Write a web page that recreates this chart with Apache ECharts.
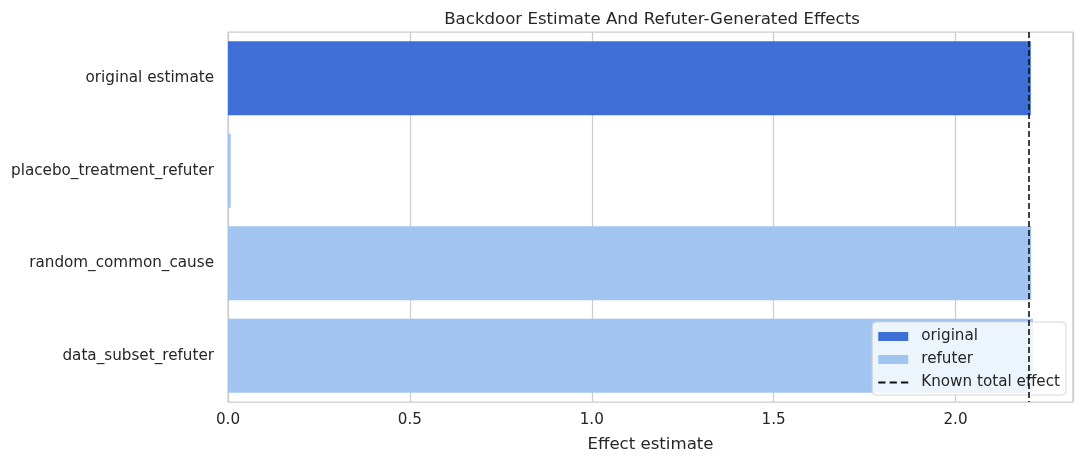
<!DOCTYPE html>
<html>
<head>
<meta charset="utf-8">
<script src="https://cdn.jsdelivr.net/npm/echarts@6/dist/echarts.min.js"></script>
<style>
  html, body { margin: 0; padding: 0; background: #fff; }
  #chart1 { width: 1084px; height: 464px; }
</style>
</head>
<body>
<div id="chart1"></div>
<script>
// data
var categories = ['original estimate', 'placebo_treatment_refuter', 'random_common_cause', 'data_subset_refuter'];
var originalValues = [2.207, null, null, null];
var refuterValues = [null, 0.0075, 2.208, 2.213];
var knownEffect = 2.2;
var xTicks = [0, 0.5, 1.0, 1.5, 2.0];

var font = 'DejaVu Sans';
var myChart = echarts.init(document.getElementById('chart1'));

// dashed line icon for the legend
var dashIcon = 'path://M0,4h7v2h-7z M11,4h7v2h-7z M22,4h7v2h-7z';

var option = {
    animation: false,
    backgroundColor: '#fff',
    textStyle: { fontFamily: font },
    title: {
        text: 'Backdoor Estimate And Refuter-Generated Effects',
        left: 647, top: 6,
        textAlign: 'center',
        textStyle: { fontFamily: font, fontSize: 16.6, fontWeight: 'normal', color: '#262626' }
    },
    grid: {
        left: 228, right: 11, top: 32, bottom: 62,
        show: true, borderColor: '#cccccc', borderWidth: 1.25,
        containLabel: false
    },
    legend: {
        orient: 'vertical',
        right: 18, bottom: 69,
        padding: [7, 6, 5, 6],
        itemGap: 8,
        itemWidth: 30, itemHeight: 9,
        backgroundColor: 'rgba(255,255,255,0.8)',
        borderColor: '#d6d6d6', borderWidth: 1, borderRadius: 4,
        textStyle: { fontFamily: font, fontSize: 15.2, lineHeight: 15, color: '#262626', padding: [0, 0, 0, 8] },
        data: [
            { name: 'original', icon: 'rect' },
            { name: 'refuter', icon: 'rect' },
            { name: 'Known total effect', icon: dashIcon, itemStyle: { color: '#111' } }
        ]
    },
    xAxis: {
        type: 'value',
        min: 0, max: 2.323,
        interval: 0.5,
        name: 'Effect estimate',
        nameLocation: 'middle',
        nameGap: 34,
        nameTextStyle: { fontFamily: font, fontSize: 16.6, color: '#262626' },
        axisLine: { show: false },
        axisTick: { show: false },
        splitLine: { show: true, lineStyle: { color: '#cccccc', width: 1.25 } },
        axisLabel: {
            fontFamily: font, fontSize: 15.2, color: '#262626', margin: 11,
            showMaxLabel: false,
            formatter: function (v) {
                return xTicks.indexOf(v) >= 0 ? v.toFixed(1) : '';
            }
        }
    },
    yAxis: {
        type: 'category',
        inverse: true,
        data: categories,
        axisLine: { show: false },
        axisTick: { show: false },
        splitLine: { show: false },
        axisLabel: { fontFamily: font, fontSize: 15.2, color: '#262626', margin: 14 }
    },
    series: [
        {
            name: 'original',
            type: 'bar',
            data: originalValues,
            barGap: '-100%',
            barCategoryGap: '20%',
            itemStyle: { color: '#3f6fd6' }
        },
        {
            name: 'refuter',
            type: 'bar',
            data: refuterValues,
            barGap: '-100%',
            barCategoryGap: '20%',
            itemStyle: { color: '#a1c5f0' }
        },
        {
            name: 'Known total effect',
            type: 'line',
            data: [],
            itemStyle: { color: '#111' },
            markLine: {
                silent: true,
                symbol: 'none',
                label: { show: false },
                lineStyle: { color: '#111', type: [6, 3], width: 1.6 },
                data: [{ xAxis: knownEffect }]
            }
        }
    ]
};

myChart.setOption(option);
</script>
</body>
</html>
